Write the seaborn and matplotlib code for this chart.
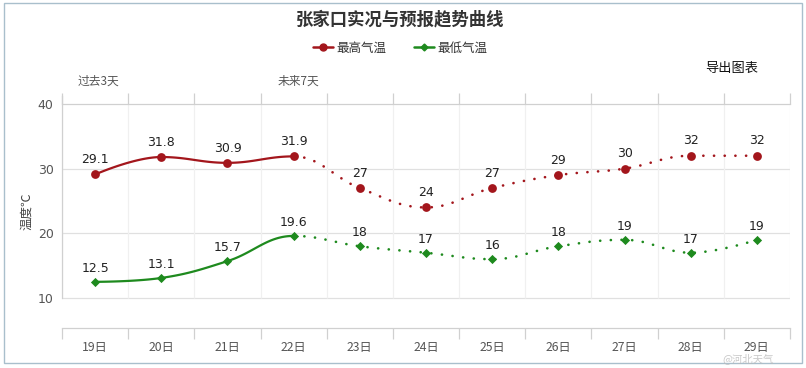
import numpy as np
import pandas as pd
import matplotlib
matplotlib.use("Agg")
import matplotlib.pyplot as plt
import seaborn as sns
from matplotlib.patches import Rectangle

days = ["19日", "20日", "21日", "22日", "23日", "24日", "25日", "26日", "27日", "28日", "29日"]
high = [29.1, 31.8, 30.9, 31.9, 27, 24, 27, 29, 30, 32, 32]
low = [12.5, 13.1, 15.7, 19.6, 18, 17, 16, 18, 19, 17, 19]
high_labels = ["29.1", "31.8", "30.9", "31.9", "27", "24", "27", "29", "30", "32", "32"]
low_labels = ["12.5", "13.1", "15.7", "19.6", "18", "17", "16", "18", "19", "17", "19"]
n_past = 4  # observed days 19-22 (solid), forecast afterwards (dotted)

sns.set_theme(style="white")
plt.rcParams['font.family'] = ['Noto Sans CJK SC', 'DejaVu Sans']

RED = "#A3161C"
GREEN = "#1E8A1E"


def hc_spline(x, y, smoothing=1.5, n=40):
    N = len(x)
    left = [None] * N
    right = [None] * N
    for i in range(N):
        if 0 < i < N - 1:
            d = smoothing + 1
            lx = (smoothing * x[i] + x[i - 1]) / d
            ly = (smoothing * y[i] + y[i - 1]) / d
            rx = (smoothing * x[i] + x[i + 1]) / d
            ry = (smoothing * y[i] + y[i + 1]) / d
            if rx != lx:
                corr = ((ry - ly) * (rx - x[i])) / (rx - lx) + y[i] - ry
                ly += corr
                ry += corr
            if ly > y[i - 1] and ly > y[i]:
                ly = max(y[i - 1], y[i]); ry = 2 * y[i] - ly
            elif ly < y[i - 1] and ly < y[i]:
                ly = min(y[i - 1], y[i]); ry = 2 * y[i] - ly
            if ry > y[i + 1] and ry > y[i]:
                ry = max(y[i + 1], y[i]); ly = 2 * y[i] - ry
            elif ry < y[i + 1] and ry < y[i]:
                ry = min(y[i + 1], y[i]); ly = 2 * y[i] - ry
            left[i] = (lx, ly); right[i] = (rx, ry)
        else:
            left[i] = (x[i], y[i]); right[i] = (x[i], y[i])
    segs = []
    t = np.linspace(0, 1, n)
    for i in range(1, N):
        p0 = np.array([x[i - 1], y[i - 1]]); p1 = np.array(right[i - 1])
        p2 = np.array(left[i]); p3 = np.array([x[i], y[i]])
        pts = (((1 - t) ** 3)[:, None] * p0 + (3 * (1 - t) ** 2 * t)[:, None] * p1
               + (3 * (1 - t) * t ** 2)[:, None] * p2 + (t ** 3)[:, None] * p3)
        segs.append(pts)
    return segs


fig = plt.figure(figsize=(8.06, 3.68), dpi=100)
ax = fig.add_axes([62 / 806, 1 - 328 / 368, (790 - 62) / 806, (328 - 104) / 368])

xs = np.arange(len(days))
ax.set_xlim(-0.5, len(days) - 0.5)
ax.set_ylim(5.36, 40)

# grid
for yv in [10, 20, 30]:
    ax.axhline(yv, color="#E0E0E0", lw=0.9, zorder=0)
ax.vlines(np.arange(-0.5, len(days)), 10, 40, color="#F0F0F0", lw=0.9, zorder=0)

for vals, color in [(high, RED), (low, GREEN)]:
    segs = hc_spline(list(xs.astype(float)), vals)
    solid = np.vstack(segs[:n_past - 1])
    dotted = np.vstack(segs[n_past - 1:])
    ax.plot(solid[:, 0], solid[:, 1], color=color, lw=1.6, solid_capstyle="round", zorder=2)
    ax.plot(dotted[:, 0], dotted[:, 1], color=color, lw=1.9, linestyle=(0, (0.05, 4.0)),
            dash_capstyle="round", zorder=2)

df = pd.DataFrame({"x": xs, "high": high, "low": low})
sns.scatterplot(data=df, x="x", y="high", ax=ax, color=RED, s=40, marker="o",
                edgecolor=RED, linewidth=0, zorder=3)
sns.scatterplot(data=df, x="x", y="low", ax=ax, color=GREEN, s=22, marker="D",
                edgecolor=GREEN, linewidth=0, zorder=3)

for xi, v, lab in zip(xs, high, high_labels):
    ax.annotate(lab, (xi, v), xytext=(0, 6), textcoords="offset points", ha="center",
                va="bottom", fontsize=9, color="#222222", family=["DejaVu Sans"])
for xi, v, lab in zip(xs, low, low_labels):
    ax.annotate(lab, (xi, v), xytext=(0, 5), textcoords="offset points", ha="center",
                va="bottom", fontsize=9, color="#222222", family=["DejaVu Sans"])

# axes styling
ax.spines["right"].set_visible(False)
for sp in ["top", "bottom", "left"]:
    ax.spines[sp].set_color("#D0D0D0")
    ax.spines[sp].set_linewidth(0.9)
ax.spines["left"].set_bounds(10, 41.2)

ax.set_xticks(xs)
ax.set_xticklabels(days)
ax.set_xticks(np.arange(-0.5, len(days)), minor=True)
ax.tick_params(axis="x", which="major", length=0, pad=9, labelsize=8.8, labelcolor="#555555")
ax.tick_params(axis="x", which="minor", length=8, width=0.9, color="#D0D0D0", direction="out",
               top=True, bottom=True)
ax.set_yticks([10, 20, 30, 40])
ax.set_yticklabels(["10", "20", "30", "40"], family=["DejaVu Sans"])
ax.tick_params(axis="y", length=0, pad=6, labelsize=9, labelcolor="#555555")
ax.set_xlabel("")
ax.set_ylabel("温度℃", fontsize=9, color="#444444")
ax.yaxis.set_label_coords(-0.04, 0.52)

# texts
fig.text(400 / 806, 1 - 19 / 368, "张家口实况与预报趋势曲线", ha="center", va="center",
         fontsize=12.5, fontweight="bold", color="#333333")
fig.text(98 / 806, 1 - 81 / 368, "过去3天", ha="center", va="center", fontsize=8.5, color="#555555")
fig.text(298 / 806, 1 - 81 / 368, "未来7天", ha="center", va="center", fontsize=8.5, color="#555555")
fig.text(732 / 806, 1 - 68 / 368, "导出图表", ha="center", va="center", fontsize=9.5, color="#111111")

# legend
handles = [
    plt.Line2D([], [], color=RED, lw=1.8, marker="o", markersize=5),
    plt.Line2D([], [], color=GREEN, lw=1.8, marker="D", markersize=3.5),
]
fig.legend(handles, ["最高气温", "最低气温"], loc="center", bbox_to_anchor=(400 / 806, 1 - 48 / 368),
           ncol=2, frameon=False, fontsize=9, handlelength=1.6, handletextpad=0.3,
           columnspacing=2.2, labelcolor="#333333")

# watermark
fig.text(748 / 806, 1 - 359 / 368, "@河北天气", ha="center", va="center", fontsize=7.5,
         color="#BBBBBB", alpha=0.8, zorder=10)

# outer frame
fig.patches.append(Rectangle((4 / 806, 1 - 363 / 368), 798 / 806, 360 / 368,
                             transform=fig.transFigure, fill=False, edgecolor="#A9BFCC",
                             lw=1.0))

fig.savefig("out.png", dpi=100)
